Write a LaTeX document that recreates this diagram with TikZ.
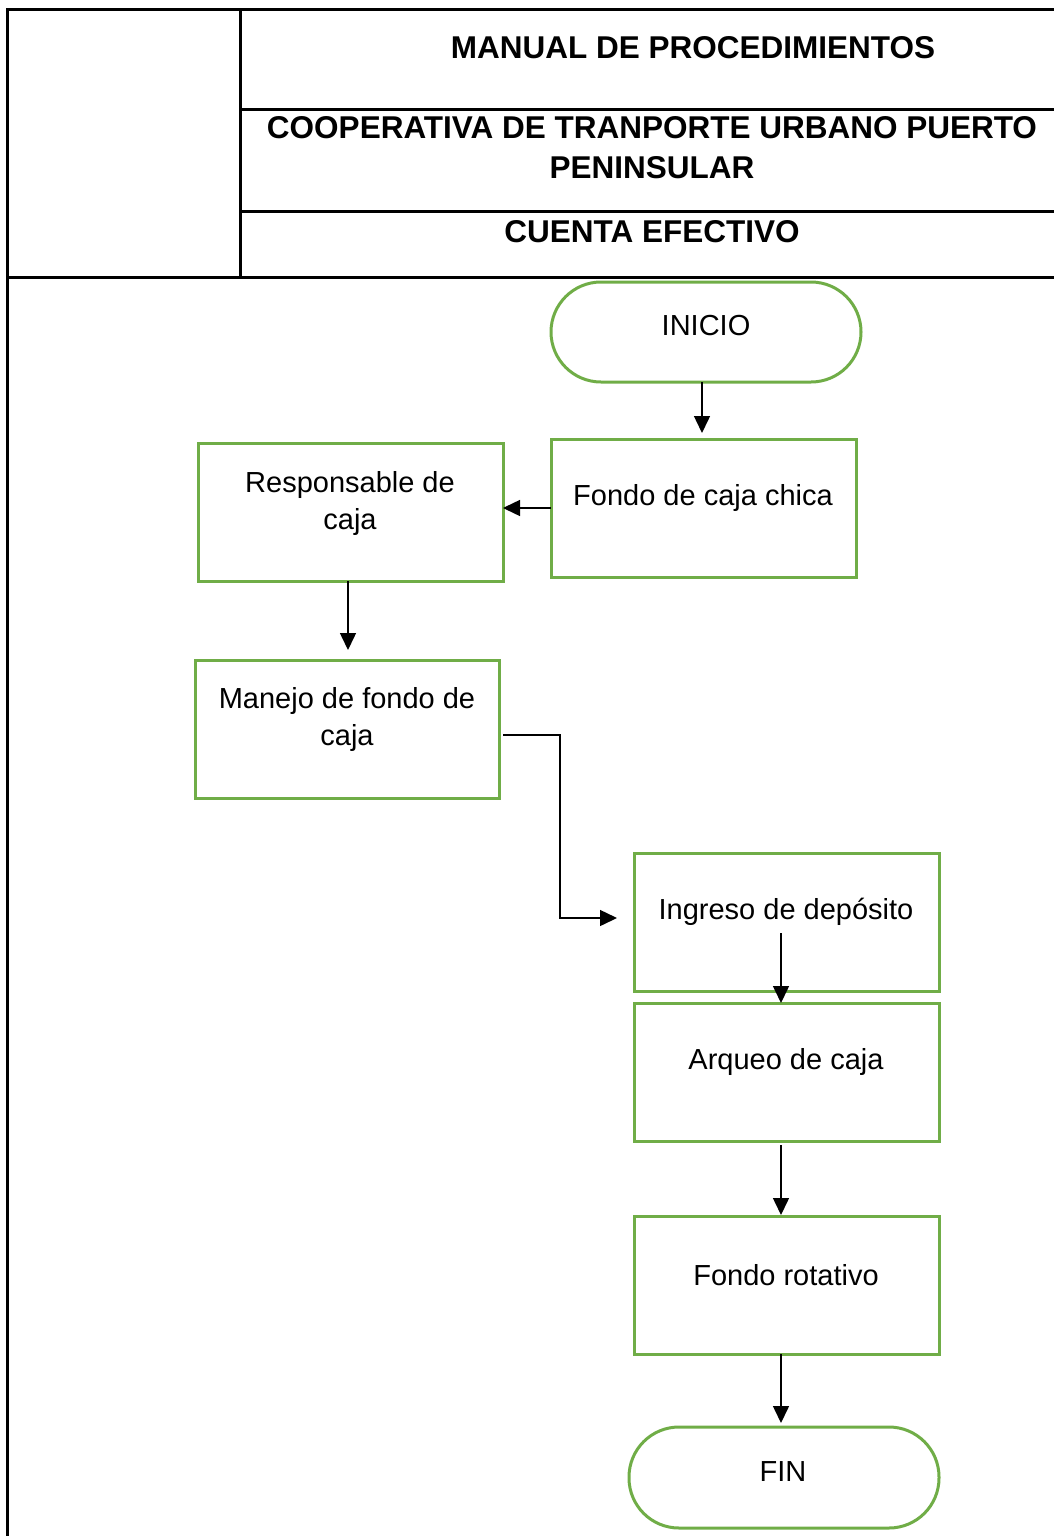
\documentclass[tikz,border=0pt]{standalone}
\usepackage{fontspec}
\setmainfont{Liberation Sans}
\usetikzlibrary{arrows.meta}
\definecolor{boxgreen}{HTML}{70AD47}
\begin{document}
\begin{tikzpicture}[x=1pt,y=-1pt,
  frame/.style={line width=3pt,black},
  box/.style={draw=boxgreen,line width=3pt,rectangle,inner sep=0pt},
  term/.style={box,rounded corners=50pt},
  txt/.style={font=\fontsize{29}{37}\selectfont,align=center,inner sep=0pt},
  head/.style={font=\fontsize{31.5}{40}\selectfont\bfseries,align=center,inner sep=0pt},
  flow/.style={line width=1.5pt,-{Triangle[length=17pt,width=16pt]}}]
\useasboundingbox (0,0) rectangle (1054,1536);
% header table
\coordinate (tl) at (7,10);
\coordinate (tr) at (1054,10);
\coordinate (ml) at (7,277);
\coordinate (mr) at (1054,277);
\coordinate (bl) at (7,1536);
\coordinate (vt) at (240,10);
\coordinate (vb) at (240,277);
\coordinate (r1l) at (240,110);
\coordinate (r1r) at (1054,110);
\coordinate (r2l) at (240,211);
\coordinate (r2r) at (1054,211);
\draw[frame] (tr) -- (tl) -- (bl);
\draw[frame] (ml) -- (mr);
\draw[frame] (vt) -- (vb);
\draw[frame] (r1l) -- (r1r);
\draw[frame] (r2l) -- (r2r);
\node[head] (h1) at (693,48) {MANUAL DE PROCEDIMIENTOS};
\node[head] (h2) at (652,148) {COOPERATIVA DE TRANPORTE URBANO PUERTO\\PENINSULAR};
\node[head] (h3) at (652,232) {CUENTA EFECTIVO};
% flowchart shapes
\draw[term] (551,282) rectangle (861,382);
\coordinate (inicioS) at (702,382);
\draw[box] (551,439) rectangle (856,577);
\coordinate (fondoN) at (702,439);
\coordinate (fondoW) at (551,508);
\draw[box] (198,443) rectangle (503,581);
\coordinate (respE) at (503,508);
\coordinate (respS) at (348,581);
\draw[box] (195,660) rectangle (499,798);
\coordinate (manejoN) at (348,660);
\coordinate (manejoE) at (503,735);
\draw[box] (634,853) rectangle (939,991);
\coordinate (ingresoW) at (617,918);
\coordinate (ingresoIn) at (781,933);
\draw[box] (634,1003) rectangle (939,1141);
\coordinate (arqueoN) at (781,1003);
\coordinate (arqueoS) at (781,1145);
\draw[box] (634,1216) rectangle (939,1354);
\coordinate (rotN) at (781,1216);
\coordinate (rotS) at (781,1354);
\draw[term] (629,1427) rectangle (939,1528);
\coordinate (finN) at (781,1427);
% labels
\node[txt] (t1) at (706,326) {INICIO};
\node[txt] (t2) at (703,498) {Fondo de caja chica};
\node[txt] (t3) at (350,503) {Responsable de\\caja};
\node[txt] (t4) at (347,719) {Manejo de fondo de\\caja};
\node[txt] (t5) at (786,912) {Ingreso de depósito};
\node[txt] (t6) at (786,1062) {Arqueo de caja};
\node[txt] (t7) at (786,1275) {Fondo rotativo};
\node[txt] (t8) at (783,1472) {FIN};
% connectors (end points stop short of the box edges)
\draw[flow] (inicioS) -- ([yshift=6pt]fondoN);
\draw[flow] (fondoW) -- (respE);
\draw[flow] (respS) -- ([yshift=10pt]manejoN);
\draw[flow] (manejoE) -- (560,735) -- (560,918) -- (ingresoW);
\draw[flow] (ingresoIn) -- (arqueoN);
\draw[flow] (arqueoS) -- ([yshift=1pt]rotN);
\draw[flow] (rotS) -- ([yshift=4pt]finN);
\end{tikzpicture}
\end{document}
